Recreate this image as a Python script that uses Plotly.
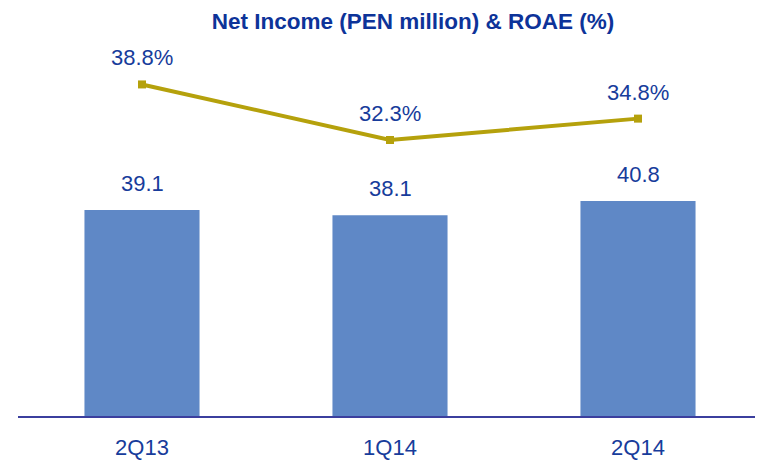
import plotly.graph_objects as go

categories = ["2Q13", "1Q14", "2Q14"]
net_income = [39.1, 38.1, 40.8]
roae = [38.8, 32.3, 34.8]
net_income_labels = ["39.1", "38.1", "40.8"]
roae_labels = ["38.8%", "32.3%", "34.8%"]

label_color = "#173C9B"
bar_color = "#5F88C6"
line_color = "#B5A10C"

fig = go.Figure()
fig.add_trace(go.Bar(
    x=categories, y=net_income, marker=dict(color=bar_color, line=dict(width=0)),
    width=0.464, yaxis="y", hoverinfo="skip", showlegend=False,
))
fig.add_trace(go.Scatter(
    x=categories, y=roae, mode="lines+markers", yaxis="y2",
    line=dict(color=line_color, width=4),
    marker=dict(symbol="square", size=8, color=line_color),
    hoverinfo="skip", showlegend=False,
))

annotations = []
for c, v, t in zip(categories, net_income, net_income_labels):
    annotations.append(dict(x=c, y=v, xref="x", yref="y", text=t, showarrow=False,
                            yanchor="bottom", yshift=12,
                            font=dict(family="Liberation Sans, Arial", size=22, color=label_color)))
for c, v, t in zip(categories, roae, roae_labels):
    annotations.append(dict(x=c, y=v, xref="x", yref="y2", text=t, showarrow=False,
                            yanchor="bottom", yshift=12,
                            font=dict(family="Liberation Sans, Arial", size=22, color=label_color)))

fig.update_layout(
    width=755, height=455,
    margin=dict(l=10, r=1, t=32, b=47),
    paper_bgcolor="white", plot_bgcolor="white",
    title=dict(text="<b>Net Income (PEN million) & ROAE (%)</b>",
               x=405 / 755, xanchor="center", y=1 - 13 / 455, yanchor="middle", yref="container",
               font=dict(family="Liberation Sans, Arial", size=22.5, color="#0D3399")),
    xaxis=dict(type="category", range=[-0.5, 2.5], showline=True, linecolor="#3B3F9E", linewidth=2,
               showgrid=False, zeroline=False, ticks="", ticklabelstandoff=11,
               tickfont=dict(family="Liberation Sans, Arial", size=22, color=label_color)),
    yaxis=dict(range=[0, 71.35], visible=False, showgrid=False, zeroline=False),
    yaxis2=dict(range=[0, 44.0], overlaying="y", visible=False, showgrid=False, zeroline=False),
    annotations=annotations,
    bargap=0.5,
)

fig.write_html("out.html")
